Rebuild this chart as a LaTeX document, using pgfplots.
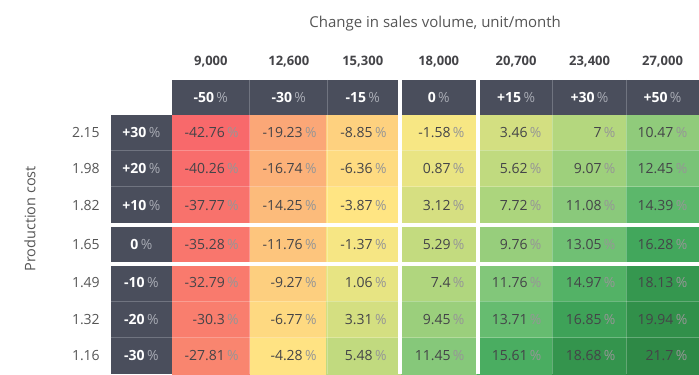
\documentclass[border=0pt]{standalone}
\usepackage{pgfplots}
\pgfplotsset{compat=1.18}
\usepackage{pgfplotstable}
\usepackage{fontspec}
\setmainfont{Open Sans}
\definecolor{hdr}{RGB}{74,78,92}
\definecolor{hdrline}{RGB}{112,116,128}
\definecolor{hdrpct}{RGB}{168,171,180}
\definecolor{txt}{RGB}{68,68,72}
\definecolor{pct}{RGB}{150,150,150}
\definecolor{lbl}{RGB}{85,85,85}
\newcommand\fs[1]{\fontsize{#1}{#1}\selectfont}

\pgfplotstableread{
x xr y v
211 239 -133 -42.76
289 317 -133 -19.23
364 387 -133 -8.85
439 465 -133 -1.58
515.5 542 -133 3.46
590 616 -133 7
663 688 -133 10.47
211 239 -168.5 -40.26
289 317 -168.5 -16.74
364 387 -168.5 -6.36
439 465 -168.5 0.87
515.5 542 -168.5 5.62
590 616 -168.5 9.07
663 688 -168.5 12.45
211 239 -205.5 -37.77
289 317 -205.5 -14.25
364 387 -205.5 -3.87
439 465 -205.5 3.12
515.5 542 -205.5 7.72
590 616 -205.5 11.08
663 688 -205.5 14.39
211 239 -244.5 -35.28
289 317 -244.5 -11.76
364 387 -244.5 -1.37
439 465 -244.5 5.29
515.5 542 -244.5 9.76
590 616 -244.5 13.05
663 688 -244.5 16.28
211 239 -283 -32.79
289 317 -283 -9.27
364 387 -283 1.06
439 465 -283 7.4
515.5 542 -283 11.76
590 616 -283 14.97
663 688 -283 18.13
211 239 -320 -30.3
289 317 -320 -6.77
364 387 -320 3.31
439 465 -320 9.45
515.5 542 -320 13.71
590 616 -320 16.85
663 688 -320 19.94
211 239 -356 -27.81
289 317 -356 -4.28
364 387 -356 5.48
439 465 -356 11.45
515.5 542 -356 15.61
590 616 -356 18.68
663 688 -356 21.7
}\cells

\newcommand\hp[1]{\textbf{#1}\,\textcolor{hdrpct}{\%}}

\begin{document}
\begin{tikzpicture}[
  hn/.style={text=white, font=\fs{14}},
  cl/.style={text=txt, font=\fs{13}\bfseries},
  rl/.style={text=lbl, font=\fs{14}, anchor=east, inner sep=0pt},
  hl/.style={hdrline, line width=0.8pt},
  wl/.style={white, opacity=0.25, line width=0.8pt},
]
\begin{axis}[
  at={(0,0)}, anchor=south west,
  width=699pt, height=374pt, scale only axis,
  xmin=0, xmax=699, ymin=-374, ymax=0,
  hide axis, clip=false,
  colormap={heat}{
    rgb255(0pt)=(248,105,107);
    rgb255(14pt)=(249,128,110);
    rgb255(24pt)=(251,168,119);
    rgb255(40pt)=(255,232,132);
    rgb255(44pt)=(232,228,131);
    rgb255(50pt)=(180,215,126);
    rgb255(55pt)=(128,198,122);
    rgb255(57pt)=(98,186,110);
    rgb255(59pt)=(68,170,94);
    rgb255(61pt)=(53,151,79);
    rgb255(65pt)=(45,136,69)},
  point meta min=-43, point meta max=22,
]
\path (axis cs:0,0) rectangle (axis cs:699,-374);

% heat cells
\addplot[matrix plot*, mesh/cols=7, point meta=explicit]
  table[x=x, y=y, meta=v] {\cells};

% header row and header column
\fill[hdr] (axis cs:172,-80) rectangle (axis cs:699,-115);
\fill[hdr] (axis cs:111,-115) rectangle (axis cs:172,-374);

% thin internal lines
\draw[hl] (axis cs:250,-80) -- (axis cs:250,-115);
\draw[hl] (axis cs:328,-80) -- (axis cs:328,-115);
\draw[hl] (axis cs:553,-80) -- (axis cs:553,-115);
\draw[hl] (axis cs:627,-80) -- (axis cs:627,-115);
\draw[wl] (axis cs:250,-115) -- (axis cs:250,-374);
\draw[wl] (axis cs:328,-115) -- (axis cs:328,-374);
\draw[wl] (axis cs:553,-115) -- (axis cs:553,-374);
\draw[wl] (axis cs:627,-115) -- (axis cs:627,-374);
\draw[hl] (axis cs:111,-151) -- (axis cs:172,-151);
\draw[hl] (axis cs:111,-187) -- (axis cs:172,-187);
\draw[hl] (axis cs:111,-302) -- (axis cs:172,-302);
\draw[hl] (axis cs:111,-338) -- (axis cs:172,-338);
\draw[wl] (axis cs:172,-151) -- (axis cs:699,-151);
\draw[wl] (axis cs:172,-187) -- (axis cs:699,-187);
\draw[wl] (axis cs:172,-302) -- (axis cs:699,-302);
\draw[wl] (axis cs:172,-338) -- (axis cs:699,-338);

% white gaps
\fill[white] (axis cs:398,-78) rectangle (axis cs:402,-374);
\fill[white] (axis cs:476,-78) rectangle (axis cs:480,-374);
\fill[white] (axis cs:109,-223) rectangle (axis cs:699,-227);
\fill[white] (axis cs:109,-262) rectangle (axis cs:699,-266);

% cell labels
\addplot[draw=none, mark=none, point meta=explicit symbolic,
  nodes near coords={\pgfplotspointmeta\,\textcolor{pct}{\%}},
  every node near coord/.append style={anchor=east, inner sep=0pt, text=txt, font=\fs{14}}]
  table[x=xr, y=y, meta=v] {\cells};

% column header percentages
\node[hn] at (axis cs:211,-97.5) {\hp{-50}};
\node[hn] at (axis cs:289,-97.5) {\hp{-30}};
\node[hn] at (axis cs:363,-97.5) {\hp{-15}};
\node[hn] at (axis cs:439,-97.5) {\hp{0}};
\node[hn] at (axis cs:516.5,-97.5) {\hp{+15}};
\node[hn] at (axis cs:590,-97.5) {\hp{+30}};
\node[hn] at (axis cs:663,-97.5) {\hp{+50}};
% row header percentages
\node[hn] at (axis cs:141.5,-133) {\hp{+30}};
\node[hn] at (axis cs:141.5,-168.5) {\hp{+20}};
\node[hn] at (axis cs:141.5,-205.5) {\hp{+10}};
\node[hn] at (axis cs:141.5,-244.5) {\hp{0}};
\node[hn] at (axis cs:141.5,-283) {\hp{-10}};
\node[hn] at (axis cs:141.5,-320) {\hp{-20}};
\node[hn] at (axis cs:141.5,-356) {\hp{-30}};
% column values
\node[cl] at (axis cs:211,-62) {9,000};
\node[cl] at (axis cs:289,-62) {12,600};
\node[cl] at (axis cs:363,-62) {15,300};
\node[cl] at (axis cs:439,-62) {18,000};
\node[cl] at (axis cs:516.5,-62) {20,700};
\node[cl] at (axis cs:590,-62) {23,400};
\node[cl] at (axis cs:663,-62) {27,000};
% row values
\node[rl] at (axis cs:100,-133) {2.15};
\node[rl] at (axis cs:100,-168.5) {1.98};
\node[rl] at (axis cs:100,-205.5) {1.82};
\node[rl] at (axis cs:100,-244.5) {1.65};
\node[rl] at (axis cs:100,-283) {1.49};
\node[rl] at (axis cs:100,-320) {1.32};
\node[rl] at (axis cs:100,-356) {1.16};
% titles
\node[text=lbl, font=\fs{15}] at (axis cs:435.5,-24) {Change in sales volume, unit/month};
\node[text=lbl, font=\fs{14.5}, rotate=90] at (axis cs:30,-219) {Production cost};
\end{axis}
\end{tikzpicture}
\end{document}
